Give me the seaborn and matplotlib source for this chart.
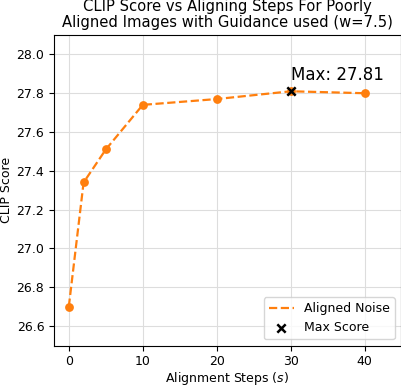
import seaborn as sns
import matplotlib.pyplot as plt
import pandas as pd

# alignment steps and CLIP scores
steps = [0, 2, 5, 10, 20, 30, 40]
clip_scores = [26.70, 27.34, 27.51, 27.74, 27.77, 27.81, 27.80]
max_step = 30
max_score = 27.81

df = pd.DataFrame({"steps": steps, "score": clip_scores})

plt.rcParams["font.family"] = ["DejaVu Sans"]
fig = plt.figure(figsize=(4.02, 3.86), dpi=100)
ax = fig.add_axes([54 / 402, 40.5 / 386, 347 / 402, 310.5 / 386])

# dashed line for the legend, dots drawn separately so the handle has no marker
sns.lineplot(data=df, x="steps", y="score", ax=ax, color="#ff7f0e",
             linestyle="--", linewidth=1.6, label="Aligned Noise")
sns.scatterplot(data=df, x="steps", y="score", ax=ax, color="#ff7f0e",
                s=40, linewidth=0, legend=False, zorder=3)
ax.scatter([max_step], [max_score], color="black", marker="x", s=36,
           linewidths=1.8, zorder=5, label="Max Score")
ax.text(max_step, max_score + 0.035, f"Max: {max_score:.2f}", fontsize=12,
        ha="left", va="bottom")

ax.set_xlim(-2, 44.9)
ax.set_ylim(26.5, 28.1)
ax.set_xticks([0, 10, 20, 30, 40])
ax.set_yticks([26.6, 26.8, 27.0, 27.2, 27.4, 27.6, 27.8, 28.0])
ax.tick_params(labelsize=9)
ax.grid(True, color="#dddddd", linewidth=0.8)
ax.set_axisbelow(True)

ax.set_xlabel("Alignment Steps ($s$)", fontsize=9, labelpad=1.5)
ax.set_ylabel("CLIP Score", fontsize=9, labelpad=2.5)
ax.set_title("CLIP Score vs Aligning Steps For Poorly\nAligned Images with Guidance used (w=7.5)",
             fontsize=10.6, linespacing=1.05)
ax.legend(loc="lower right", fontsize=9)

fig.savefig("out.png", dpi=100)
